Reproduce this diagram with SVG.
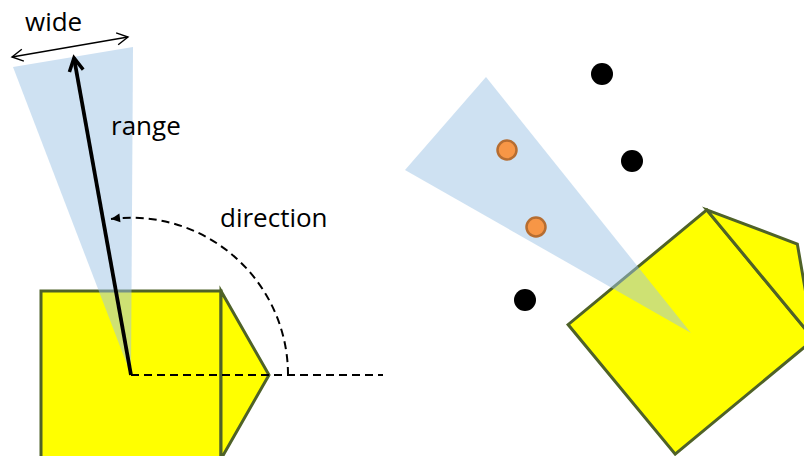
<svg xmlns="http://www.w3.org/2000/svg" width="804" height="456" viewBox="0 0 804 456">
<style>
.robot{fill:#ffff00;stroke:#4f6228;stroke-width:3;stroke-linejoin:miter}
.cone{fill:#9dc3e6;fill-opacity:0.5;stroke:none}
.lbl{font-family:"Open Sans","Liberation Sans",sans-serif;font-size:26px;fill:#000}
.dash{fill:none;stroke:#000;stroke-width:2;stroke-dasharray:8 5}
.dot{fill:#000}
.hit{fill:#f79646;stroke:#b66d31;stroke-width:2.5}
</style>
<defs>
<marker id="chev" markerUnits="userSpaceOnUse" markerWidth="30" markerHeight="30" refX="0" refY="0" viewBox="-15 -15 30 30" orient="auto-start-reverse" overflow="visible">
<path d="M -13 -7 L 0 0 L -13 7" fill="none" stroke="#000" stroke-width="3.5" stroke-linejoin="miter"/>
</marker>
<marker id="thin" markerUnits="userSpaceOnUse" markerWidth="30" markerHeight="30" refX="0" refY="0" viewBox="-15 -15 30 30" orient="auto-start-reverse" overflow="visible">
<path d="M -11 -6 L 0 0 L -11 6" fill="none" stroke="#000" stroke-width="1.4"/>
</marker>
<marker id="tri" markerUnits="userSpaceOnUse" markerWidth="20" markerHeight="20" refX="0" refY="0" viewBox="-10 -10 20 20" orient="auto" overflow="visible">
<path d="M -9 -4.5 L 0 0 L -9 4.5 Z" fill="#000"/>
</marker>
<g id="robotShape">
<rect x="41" y="291" width="180" height="168"/>
<polygon points="221,291 269,375 221,459"/>
</g>
</defs>
<g id="robot-left" class="robot">
<use href="#robotShape"/>
</g>
<g id="cone-left">
<polygon class="cone" points="131,375 13,67 133,47"/>
</g>
<g id="robot-right" class="robot">
<use href="#robotShape" transform="translate(691,332) rotate(-39.6) translate(-131,-375)"/>
</g>
<g id="cone-right">
<polygon class="cone" points="691,333 486,77 405,170"/>
</g>
<g id="objects">
<circle class="dot" cx="602" cy="74" r="11"/>
<circle class="dot" cx="632" cy="161" r="11"/>
<circle class="dot" cx="525" cy="300" r="11"/>
<circle class="hit" cx="507" cy="150" r="9.5"/>
<circle class="hit" cx="536" cy="227" r="9.5"/>
</g>
<g id="connectors">
<line x1="131" y1="375" x2="74" y2="58" stroke="#000" stroke-width="3.8" marker-end="url(#chev)"/>
<line x1="12" y1="57" x2="128" y2="37" stroke="#000" stroke-width="1.4" marker-start="url(#thin)" marker-end="url(#thin)"/>
<line class="dash" x1="131" y1="375" x2="383" y2="375"/>
<path class="dash" d="M 288 375 A 157 157 0 0 0 111 219" marker-end="url(#tri)"/>
</g>
<g id="labels">
<text class="lbl" x="25" y="31">wide</text>
<text class="lbl" x="111" y="135">range</text>
<text class="lbl" x="220" y="227">direction</text>
</g>
</svg>
